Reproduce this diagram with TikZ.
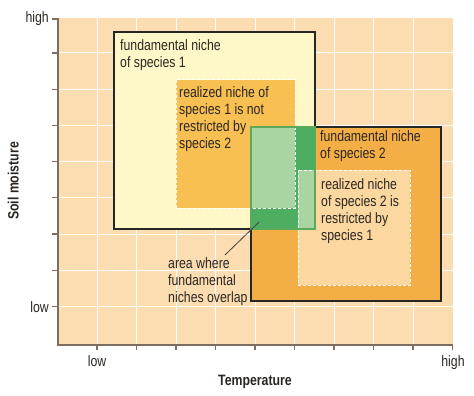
\documentclass[tikz,border=0pt]{standalone}
\usepackage{fontspec}
\setmainfont{Liberation Sans}[FakeStretch=0.82]
\usetikzlibrary{calc}

\definecolor{plotbg}{HTML}{FCDDB2}
\definecolor{nicheonefill}{HTML}{FEF8C8}
\definecolor{realonefill}{HTML}{F8C052}
\definecolor{nichetwofill}{HTML}{F3AE46}
\definecolor{realtwofill}{HTML}{FCD8A0}
\definecolor{darkgreen}{HTML}{4DAE62}
\definecolor{lightgreen}{HTML}{A9D5A3}
\definecolor{greenline}{HTML}{5DA85B}
\definecolor{axisgray}{HTML}{7D6E60}
\definecolor{textgray}{HTML}{2B2622}

\tikzset{
  nicheline/.style={draw=black!85, line width=1.2pt},
  realline/.style={draw=white, line width=1pt, dash pattern=on 3pt off 2pt},
  gridline/.style={white, line width=1pt},
  axisline/.style={axisgray, line width=1.2pt},
  lbl/.style={anchor=north west, inner sep=0pt, align=left, text=textgray, font=\fontsize{15}{17}\selectfont},
  axlbl/.style={inner sep=0pt, text=textgray, font=\fontsize{15}{17}\selectfont},
  pointer/.style={draw=black!75, line width=0.8pt}
}

\begin{document}
\begin{tikzpicture}[x=1pt, y=-1pt]
        \useasboundingbox (0,0) rectangle (474,396);
        \fill[plotbg] (58,18) rectangle (453,345);
        \foreach \x in {97,136.5,...,414} \draw[gridline] (\x,18) -- (\x,345);
        \foreach \y in {53,89.2,...,307} \draw[gridline] (58,\y) -- (453,\y);

        \filldraw[nicheonefill, nicheline] (114,32) rectangle (315,229);
        \fill[realonefill] (176,80) rectangle (295,208);
        \draw[realline] (176,80) rectangle (295,208);
        \filldraw[nichetwofill, nicheline] (251,127) rectangle (441,301);
        \fill[realtwofill] (298,170) rectangle (410,285);
        \draw[realline] (298,170) rectangle (410,285);

        \fill[darkgreen] (251,127) rectangle (315,229);
        \fill[lightgreen] (251,127) rectangle (295,208);
        \fill[lightgreen] (298,170) rectangle (315,229);
        \draw[realline] (176,80) rectangle (295,208);
        \draw[realline] (298,170) rectangle (410,285);
        \draw[greenline, line width=1.2pt] (251,127) rectangle (315,229);

        \draw[axisline] (58,18) -- (58,345) -- (453,345);
        \foreach \x in {97,136.5,...,453} \draw[axisline] (\x,345) -- (\x,350);
        \foreach \y in {19,53,89.2,...,307} \draw[axisline] (52,\y) -- (58,\y);

        \node[lbl] (fundone) at (120,39) {fundamental niche\\of species 1};
        \node[lbl] (realone) at (179,86.5) {realized niche of\\species 1 is not\\restricted by\\species 2};
        \node[lbl] (fundtwo) at (320,130.5) {fundamental niche\\of species 2};
        \node[lbl] (realtwo) at (321,178.5) {realized niche\\of species 2 is\\restricted by\\species 1};
        \node[lbl] (overlaplbl) at (168,257) {area where\\fundamental\\niches overlap};
        \coordinate (ptrstart) at (225,255);
        \coordinate (ptrend) at (259,222);
        \draw[pointer] (ptrstart) -- (ptrend);

        \node[axlbl, anchor=east] (yhigh) at (49,19) {high};
        \node[axlbl, anchor=east] (ylow) at (49,307) {low};
        \node[axlbl, anchor=base] (xlow) at (97,366) {low};
        \node[axlbl, anchor=base] (xhigh) at (453,366) {high};
        \node[axlbl, anchor=base, font=\fontsize{15}{17}\selectfont\bfseries] (xtitle) at (255,385) {Temperature};
        \node[axlbl, anchor=base, rotate=90, font=\fontsize{15}{17}\selectfont\bfseries] (ytitle) at (18.5,181) {Soil moisture};
    \end{tikzpicture}
\end{document}
